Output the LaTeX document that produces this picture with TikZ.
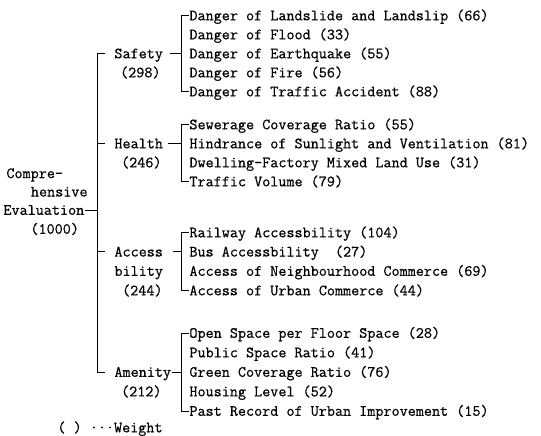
\documentclass[tikz,border=0pt]{standalone}
\usepackage{fontspec}
\setmonofont[FakeBold=0.6]{Latin Modern Mono}
\begin{document}
\begin{tikzpicture}[x=1pt, y=-1pt, line width=0.9pt,
  every node/.style={font=\ttfamily\fontsize{15.7}{19}\selectfont, inner sep=0pt, text height=9.6pt, text depth=0pt},
  item/.style={anchor=west},
  weight/.style={anchor=east}]
  \useasboundingbox (0,0) rectangle (541,436);

  % overall evaluation
  \node[item] (comp1) at (6,173.3) {Compre-};
  \node[weight] (comp2) at (88,191.7) {hensive};
  \node[item] (comp3) at (3,210) {Evaluation};
  \node[item] (comp4) at (30,229) {(1000)};

  % categories
  \node[item] (saf) at (114,53.5) {Safety};
  \node[weight] (safw) at (161,72.5) {(298)};
  \node[item] (hea) at (114,143.5) {Health};
  \node[weight] (heaw) at (162,162.5) {(246)};
  \node[item] (acc) at (114,251.7) {Access};
  \node[item] (acc2) at (114,271) {bility};
  \node[weight] (accw) at (163,290.5) {(244)};
  \node[item] (ame) at (114,372) {Amenity};
  \node[weight] (amew) at (162,391.5) {(212)};

  % safety items
  \node[item] (s1) at (189,15.5) {Danger of Landslide and Landslip (66)};
  \node[item] (s2) at (189,34.5) {Danger of Flood (33)};
  \node[item] (s3) at (189,53.5) {Danger of Earthquake (55)};
  \node[item] (s4) at (189,72.5) {Danger of Fire (56)};
  \node[item] (s5) at (189,91.5) {Danger of Traffic Accident (88)};

  % health items
  \node[item] (h1) at (189,124.5) {Sewerage Coverage Ratio (55)};
  \node[item] (h2) at (189,143.5) {Hindrance of Sunlight and Ventilation (81)};
  \node[item] (h3) at (189,162.5) {Dwelling-Factory Mixed Land Use (31)};
  \node[item] (h4) at (189,181.5) {Traffic Volume (79)};

  % accessibility items
  \node[item] (a1) at (189,232.5) {Railway Accessbility (104)};
  \node[item] (a2) at (189,251.7) {Bus Accessbility\ \ (27)};
  \node[item] (a3) at (189,271) {Access of Neighbourhood Commerce (69)};
  \node[item] (a4) at (189,290.5) {Access of Urban Commerce (44)};

  % amenity items
  \node[item] (m1) at (189,333) {Open Space per Floor Space (28)};
  \node[item] (m2) at (189,352.5) {Public Space Ratio (41)};
  \node[item] (m3) at (189,372) {Green Coverage Ratio (76)};
  \node[item] (m4) at (189,391.5) {Housing Level (52)};
  \node[item] (m5) at (189,411) {Past Record of Urban Improvement (15)};

  \node[item] (note) at (57,427.5) {( ) ···Weight};

  % main trunk
  \coordinate (trunk) at ([xshift=-17pt]saf.west);
  \draw ([xshift=-9pt]saf.west) -| ([xshift=-17pt]ame.west) -- ([xshift=-9pt]ame.west);
  \draw ([xshift=-17pt]hea.west) -- ([xshift=-9pt]hea.west);
  \draw ([xshift=-17pt]acc.west) -- ([xshift=-9pt]acc.west);
  \draw (comp3.east) -- (comp3.east -| trunk);

  % sub brackets
  \draw (s1.west) -- ++(-8,0) |- (s5.west);
  \draw ([xshift=7pt]saf.east) -- ([xshift=-8pt]s3.west);
  \draw (h1.west) -- ++(-8,0) |- (h4.west);
  \draw ([xshift=5pt]hea.east) -- ([xshift=-8pt]h2.west);
  \draw (a1.west) -- ++(-8,0) |- (a4.west);
  \draw ([xshift=10pt]acc.east) -- ([xshift=-8pt]a2.west);
  \draw (m1.west) -- ++(-8,0) |- (m5.west);
  \draw (ame.east) -- ([xshift=-8pt]m3.west);
\end{tikzpicture}
\end{document}
